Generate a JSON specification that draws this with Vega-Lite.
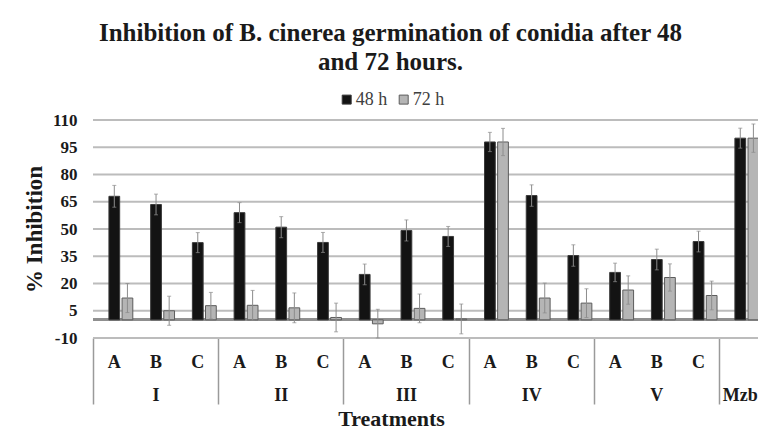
{
  "$schema": "https://vega.github.io/schema/vega-lite/v6.json",
  "autosize": {"type": "none"},
  "width": 665,
  "height": 218,
  "padding": {"left": 93, "top": 120, "right": 0, "bottom": 103},
  "background": "white",
  "config": {
    "view": {"stroke": null},
    "font": "Liberation Serif",
    "axisY": {
      "grid": false,
      "labelOverlap": false,
      "domain": false,
      "tickSize": 0,
      "labelPadding": 16,
      "labelFont": "Liberation Serif",
      "labelFontSize": 17,
      "labelFontWeight": "bold",
      "labelColor": "#1a1a1a",
      "titleFont": "Liberation Serif",
      "titleFontSize": 23,
      "titleFontWeight": "bold",
      "titleColor": "#1a1a1a",
      "titleX": -58.5,
      "titleY": 109,
      "titleBaseline": "middle",
      "titleAlign": "center",
      "titleAngle": -90
    }
  },
  "title": {
    "text": ["Inhibition of B. cinerea germination of conidia after 48", "and 72 hours."],
    "font": "Liberation Serif",
    "fontSize": 25,
    "fontWeight": "bold",
    "lineHeight": 29,
    "color": "#1a1a1a",
    "anchor": "middle",
    "dx": -35,
    "offset": 16
  },
  "datasets": {
    "bars": [
      {"cat": "I-A", "series": "48 h", "value": 68, "lo": 62, "hi": 74},
      {"cat": "I-A", "series": "72 h", "value": 12, "lo": 4, "hi": 20},
      {"cat": "I-B", "series": "48 h", "value": 63.5, "lo": 57.8, "hi": 69.2},
      {"cat": "I-B", "series": "72 h", "value": 5, "lo": -3, "hi": 13},
      {"cat": "I-C", "series": "48 h", "value": 42.5, "lo": 37, "hi": 48},
      {"cat": "I-C", "series": "72 h", "value": 7.8, "lo": 0.5, "hi": 15.1},
      {"cat": "II-A", "series": "48 h", "value": 59, "lo": 53.5, "hi": 64.5},
      {"cat": "II-A", "series": "72 h", "value": 8, "lo": -0.2, "hi": 16.2},
      {"cat": "II-B", "series": "48 h", "value": 51, "lo": 45.2, "hi": 56.8},
      {"cat": "II-B", "series": "72 h", "value": 6.6, "lo": -1.6, "hi": 14.8},
      {"cat": "II-C", "series": "48 h", "value": 42.6, "lo": 37.1, "hi": 48.1},
      {"cat": "II-C", "series": "72 h", "value": 1.3, "lo": -6.6, "hi": 9.2},
      {"cat": "III-A", "series": "48 h", "value": 25, "lo": 19.3, "hi": 30.7},
      {"cat": "III-A", "series": "72 h", "value": -2.2, "lo": -10, "hi": 5.8},
      {"cat": "III-B", "series": "48 h", "value": 49.2, "lo": 43.4, "hi": 55},
      {"cat": "III-B", "series": "72 h", "value": 6.3, "lo": -1.6, "hi": 14.2},
      {"cat": "III-C", "series": "48 h", "value": 45.9, "lo": 40.4, "hi": 51.4},
      {"cat": "III-C", "series": "72 h", "value": 0.5, "lo": -7.7, "hi": 8.7},
      {"cat": "IV-A", "series": "48 h", "value": 97.9, "lo": 92.6, "hi": 103.2},
      {"cat": "IV-A", "series": "72 h", "value": 97.9, "lo": 90.4, "hi": 105.4},
      {"cat": "IV-B", "series": "48 h", "value": 68.4, "lo": 62.5, "hi": 74.3},
      {"cat": "IV-B", "series": "72 h", "value": 12, "lo": 3.8, "hi": 20.2},
      {"cat": "IV-C", "series": "48 h", "value": 35.4, "lo": 29.5, "hi": 41.3},
      {"cat": "IV-C", "series": "72 h", "value": 9.2, "lo": 1.3, "hi": 17.1},
      {"cat": "V-A", "series": "48 h", "value": 26.1, "lo": 21, "hi": 31.2},
      {"cat": "V-A", "series": "72 h", "value": 16.4, "lo": 8.6, "hi": 24.2},
      {"cat": "V-B", "series": "48 h", "value": 33.2, "lo": 27.5, "hi": 38.9},
      {"cat": "V-B", "series": "72 h", "value": 23.3, "lo": 15.8, "hi": 30.8},
      {"cat": "V-C", "series": "48 h", "value": 43.1, "lo": 37.4, "hi": 48.8},
      {"cat": "V-C", "series": "72 h", "value": 13.4, "lo": 5.5, "hi": 21.3},
      {"cat": "Mzb", "series": "48 h", "value": 100, "lo": 94.5, "hi": 105.5},
      {"cat": "Mzb", "series": "72 h", "value": 100, "lo": 92.2, "hi": 107.8}
    ],
    "gridlines": [
      {"level": -10}, {"level": 5}, {"level": 20}, {"level": 35}, {"level": 50},
      {"level": 65}, {"level": 80}, {"level": 95}, {"level": 110}
    ]
  },
  "data": {"name": "bars"},
  "layer": [
    {
      "data": {"name": "gridlines"},
      "mark": {"type": "rule", "color": "#bcbcbc", "strokeWidth": 2},
      "encoding": {
        "y": {
          "field": "level",
          "type": "quantitative",
          "title": "% Inhibition",
          "scale": {"domain": [-10, 110], "nice": false, "zero": false},
          "axis": {"values": [-10, 5, 20, 35, 50, 65, 80, 95, 110], "labelExpr": "toString(datum.value)", "labelOverlap": false}
        }
      }
    },
    {
      "mark": {"type": "rule", "color": "#8f8f8f", "strokeWidth": 2},
      "encoding": {
        "y": {
          "datum": 0,
          "type": "quantitative",
          "title": "% Inhibition",
          "axis": {"values": [-10, 5, 20, 35, 50, 65, 80, 95, 110], "labelExpr": "toString(datum.value)", "labelOverlap": false}
        }
      }
    },
    {
      "mark": {"type": "bar", "strokeWidth": 1},
      "encoding": {
        "x": {
          "field": "cat",
          "type": "nominal",
          "sort": ["I-A","I-B","I-C","II-A","II-B","II-C","III-A","III-B","III-C","IV-A","IV-B","IV-C","V-A","V-B","V-C","Mzb"],
          "scale": {"range": [7, 674.7], "paddingInner": 0, "paddingOuter": 0},
          "axis": {
            "orient": "bottom",
            "bandPosition": 0.5,
            "tickOffset": -7,
            "ticks": false,
            "domain": false,
            "grid": false,
            "labelExpr": "datum.value == 'Mzb' ? '' : slice(datum.value, -1)",
            "labelPadding": 24,
            "labelBaseline": "middle",
            "labelAngle": 0,
            "labelFont": "Liberation Serif",
            "labelFontSize": 18,
            "labelFontWeight": "bold",
            "labelColor": "#1a1a1a",
            "labelOverlap": false,
            "title": null
          }
        },
        "xOffset": {"field": "series", "type": "nominal", "scale": {"paddingInner": 0.18, "paddingOuter": 0.68}},
        "y": {
          "field": "value",
          "type": "quantitative",
          "title": "% Inhibition",
          "axis": {"values": [-10, 5, 20, 35, 50, 65, 80, 95, 110], "labelExpr": "toString(datum.value)", "labelOverlap": false}
        },
        "color": {
          "field": "series",
          "type": "nominal",
          "scale": {"domain": ["48 h", "72 h"], "range": ["#131313", "#b5b5b5"]},
          "legend": {
            "orient": "none",
            "legendX": 244.7,
            "legendY": -29.4,
            "direction": "horizontal",
            "title": null,
            "symbolType": "square",
            "symbolSize": 81,
            "symbolStrokeWidth": 1,
            "labelFont": "Liberation Serif",
            "labelFontSize": 18,
            "labelColor": "#404040",
            "labelOffset": 0,
            "columnPadding": 7,
            "padding": 0
          }
        },
        "stroke": {
          "field": "series",
          "type": "nominal",
          "scale": {"domain": ["48 h", "72 h"], "range": ["#3a3a3a", "#5c5c5c"]},
          "legend": null
        }
      }
    },
    {
      "mark": {"type": "rule", "color": "#8c8c8c", "strokeWidth": 1},
      "encoding": {
        "x": {
          "field": "cat",
          "type": "nominal",
          "sort": ["I-A","I-B","I-C","II-A","II-B","II-C","III-A","III-B","III-C","IV-A","IV-B","IV-C","V-A","V-B","V-C","Mzb"],
          "axis": {
            "orient": "bottom",
            "bandPosition": 0,
            "tickOffset": -7,
            "labelOffset": 0,
            "ticks": true,
            "tickSize": 66,
            "tickColor": "#9a9a9a",
            "tickWidth": 1.5,
            "tickOpacity": {"condition": {"test": "indexof(['I-A','II-A','III-A','IV-A','V-A','Mzb'], datum.value) >= 0", "value": 1}, "value": 0},
            "domain": false,
            "grid": false,
            "labelExpr": "indexof(['I-B','II-B','III-B','IV-B','V-B'], datum.value) >= 0 ? split(datum.value, '-')[0] : (datum.value == 'Mzb' ? 'Mzb' : '')",
            "labelPadding": -9,
            "labelBaseline": "middle",
            "labelAngle": 0,
            "labelFont": "Liberation Serif",
            "labelFontSize": 18,
            "labelFontWeight": "bold",
            "labelColor": "#1a1a1a",
            "labelOverlap": false,
            "labelBound": false,
            "title": "Treatments",
            "titleFont": "Liberation Serif",
            "titleFontSize": 22,
            "titleFontWeight": "bold",
            "titleColor": "#1a1a1a",
            "titleX": 298,
            "titleY": 80,
            "titleBaseline": "middle",
            "titleAlign": "center"
          }
        },
        "xOffset": {"field": "series", "type": "nominal"},
        "y": {
          "field": "lo",
          "type": "quantitative",
          "title": "% Inhibition",
          "axis": {"values": [-10, 5, 20, 35, 50, 65, 80, 95, 110], "labelExpr": "toString(datum.value)", "labelOverlap": false}
        },
        "y2": {"field": "hi"}
      }
    },
    {
      "mark": {"type": "tick", "orient": "horizontal", "color": "#8c8c8c", "size": 4, "thickness": 1},
      "encoding": {
        "x": {
          "field": "cat",
          "type": "nominal",
          "sort": ["I-A","I-B","I-C","II-A","II-B","II-C","III-A","III-B","III-C","IV-A","IV-B","IV-C","V-A","V-B","V-C","Mzb"],
          "axis": null
        },
        "xOffset": {"field": "series", "type": "nominal"},
        "y": {
          "field": "hi",
          "type": "quantitative",
          "title": "% Inhibition",
          "axis": {"values": [-10, 5, 20, 35, 50, 65, 80, 95, 110], "labelExpr": "toString(datum.value)", "labelOverlap": false}
        }
      }
    },
    {
      "mark": {"type": "tick", "orient": "horizontal", "color": "#8c8c8c", "size": 4, "thickness": 1},
      "encoding": {
        "x": {
          "field": "cat",
          "type": "nominal",
          "sort": ["I-A","I-B","I-C","II-A","II-B","II-C","III-A","III-B","III-C","IV-A","IV-B","IV-C","V-A","V-B","V-C","Mzb"],
          "axis": null
        },
        "xOffset": {"field": "series", "type": "nominal"},
        "y": {
          "field": "lo",
          "type": "quantitative",
          "title": "% Inhibition",
          "axis": {"values": [-10, 5, 20, 35, 50, 65, 80, 95, 110], "labelExpr": "toString(datum.value)", "labelOverlap": false}
        }
      }
    }
  ],
  "resolve": {"axis": {"x": "independent"}}
}
